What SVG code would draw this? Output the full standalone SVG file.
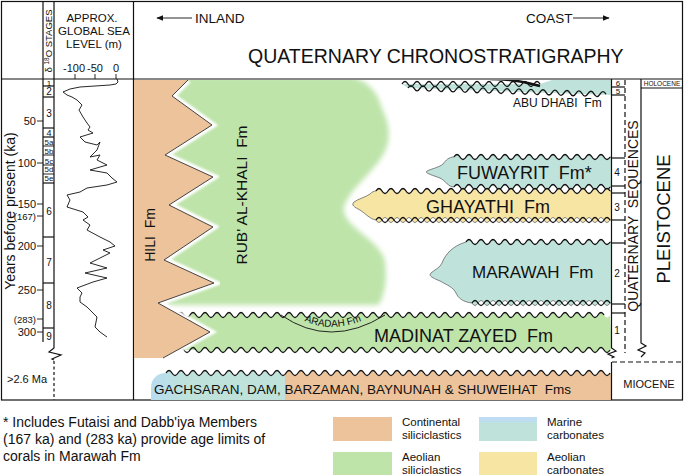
<svg xmlns="http://www.w3.org/2000/svg" width="685" height="475" viewBox="0 0 685 475">
<style>
text{font-family:"Liberation Sans",Arial,sans-serif;fill:#111}
.pre{white-space:pre}
.ln{stroke:#111;stroke-width:1.2;fill:none}
.thin{stroke:#111;stroke-width:0.9;fill:none}
.wv{stroke:#111;stroke-width:1.3;fill:none}
.edge{stroke:#555;stroke-width:0.7}
.cont{fill:#EDC39C}
.aeos{fill:#BEE4AA}
.mar{fill:#BFE3DA}
.aeoc{fill:#F7E5A4}
</style>
<defs>
<marker id="ah" viewBox="0 0 10 8" refX="9" refY="4" markerWidth="7" markerHeight="6" orient="auto-start-reverse" markerUnits="userSpaceOnUse"><path d="M0,0 L10,4 L0,8 Z" fill="#111"/></marker>
<filter id="blur" x="-10%" y="-10%" width="120%" height="120%"><feGaussianBlur stdDeviation="2.5"/></filter>
<filter id="blur2"><feGaussianBlur stdDeviation="1.2"/></filter>
<clipPath id="main"><rect x="134" y="80" width="477" height="320"/></clipPath>
<linearGradient id="gach" gradientUnits="userSpaceOnUse" x1="151" y1="0" x2="611" y2="0">
<stop offset="0" stop-color="#B8DCF0"/><stop offset="0.08" stop-color="#BFE3DA"/><stop offset="0.291" stop-color="#BFE3DA"/><stop offset="0.291" stop-color="#EDC39C"/><stop offset="1" stop-color="#EDC39C"/>
</linearGradient>
<linearGradient id="marleg" x1="0" y1="0" x2="0" y2="1">
<stop offset="0" stop-color="#BEDDF2"/><stop offset="0.18" stop-color="#BEDDF2"/><stop offset="0.25" stop-color="#BFE3DA"/><stop offset="1" stop-color="#BFE3DA"/>
</linearGradient>
</defs>

<g id="frame">
<rect x="1.5" y="1.5" width="681" height="398.5" class="ln"/>
<line x1="1" y1="79" x2="683" y2="79" class="ln"/>
<line x1="43" y1="1" x2="43" y2="342" class="ln"/>
<path d="M54,1 L54,348 L49,352 L61,355 L52,359 L54,360" class="ln"/>
<line x1="54" y1="361" x2="54" y2="400" class="ln" stroke-dasharray="3,2.5"/>
<line x1="133.5" y1="1" x2="133.5" y2="400" class="ln"/>
</g>

<g id="axis">
<text transform="translate(15,211) rotate(-90)" text-anchor="middle" font-size="14">Years before present (ka)</text>
<g class="thin">
<line x1="37" y1="121" x2="43" y2="121"/><line x1="37" y1="163" x2="43" y2="163"/><line x1="37" y1="204" x2="43" y2="204"/><line x1="37" y1="216" x2="43" y2="216"/><line x1="37" y1="246" x2="43" y2="246"/><line x1="37" y1="290" x2="43" y2="290"/><line x1="37" y1="319" x2="43" y2="319"/><line x1="37" y1="332" x2="43" y2="332"/>
</g>
<g font-size="11" text-anchor="end">
<text x="36" y="125">50</text><text x="36" y="167">100</text><text x="36" y="208">150</text><text x="36" y="220" font-size="9.5">(167)</text><text x="36" y="250">200</text><text x="36" y="294">250</text><text x="36" y="323" font-size="9.5">(283)</text><text x="36" y="336">300</text>
</g>
<text x="7" y="383" font-size="11">&gt;2.6 Ma</text>
</g>

<g id="stages">
<text transform="translate(52,41) rotate(-90)" text-anchor="middle" font-size="9.5">δ <tspan font-size="6.5" dy="-3">18</tspan><tspan dy="3">O STAGES</tspan></text>
<g class="ln">
<line x1="43" y1="86" x2="54" y2="86"/><line x1="43" y1="97" x2="54" y2="97"/><line x1="43" y1="128" x2="54" y2="128"/><line x1="43" y1="137" x2="54" y2="137"/><line x1="43" y1="183" x2="54" y2="183"/><line x1="43" y1="237" x2="54" y2="237"/><line x1="43" y1="283" x2="54" y2="283"/><line x1="43" y1="328" x2="54" y2="328"/>
</g>
<g class="thin" stroke-width="0.6">
<line x1="43" y1="146" x2="54" y2="146"/><line x1="43" y1="155" x2="54" y2="155"/><line x1="43" y1="165" x2="54" y2="165"/><line x1="43" y1="174" x2="54" y2="174"/>
</g>
<g text-anchor="middle" font-size="10">
<text x="49" y="85.5" font-size="8">1</text><text x="49" y="95">2</text><text x="49" y="117">3</text><text x="49" y="136" font-size="9">4</text>
<text x="49" y="145" font-size="8">5a</text><text x="49" y="154" font-size="8">5b</text><text x="49" y="164" font-size="8">5c</text><text x="49" y="172" font-size="8">5d</text><text x="49" y="181" font-size="8">5e</text>
<text x="49" y="215">6</text><text x="49" y="266">7</text><text x="49" y="309">8</text><text x="49" y="340">9</text>
</g>
</g>

<g id="sealevel">
<g font-size="11.5" text-anchor="middle">
<text x="92" y="22">APPROX.</text><text x="94" y="35">GLOBAL SEA</text><text x="94" y="48">LEVEL (m)</text>
</g>
<g font-size="11" text-anchor="middle">
<text x="74" y="72">-100</text><text x="95" y="72">-50</text><text x="116" y="72">0</text>
</g>
<g class="thin"><line x1="75" y1="74" x2="75" y2="79"/><line x1="95" y1="74" x2="95" y2="79"/><line x1="116" y1="74" x2="116" y2="79"/></g>
<polyline class="thin" points="117,79 118,82 116,84 110,85 95,86 80,87 70,89 63,92 67,95 72,97 77,100 82,105 79,110 83,117 87,123 90,127 88,130 93,133 80,137 85,142 97,145 100,142 97,150 90,157 100,155 97,160 107,165 100,167 90,170 107,173 112,178 117,182 107,185 87,188 80,192 67,195 70,200 67,207 83,212 88,217 83,220 90,225 87,230 100,237 110,242 115,246 103,250 110,253 90,263 107,268 85,273 107,278 93,282 77,288 82,293 80,297 80,302 87,307 97,317 95,327 100,332 107,337"/>
</g>

<g id="header">
<line x1="192" y1="18" x2="157" y2="18" class="thin" stroke-width="1.1" marker-end="url(#ah)"/>
<text x="195" y="23" font-size="13.5">INLAND</text>
<text x="526" y="23" font-size="13.5">COAST</text>
<line x1="573" y1="18" x2="609" y2="18" class="thin" stroke-width="1.1" marker-end="url(#ah)"/>
<text x="248" y="63" font-size="19.5">QUATERNARY CHRONOSTRATIGRAPHY</text>
</g>

<g id="formations" clip-path="url(#main)">
<g id="rubalkhali">
<path class="aeos" filter="url(#blur)" d="M150,76 L345,76 C366,78 378,92 381,106 C385,116 391,126 388,142 C384,166 350,186 344,207 C340,226 382,240 385,262 C388,282 383,300 378,305 L150,305 Z"/>
</g>
<g id="madinat">
<path class="aeos" d="M150,315 L178,315 q3,-5 6,0 t6,0 t6,0 t6,0 t6,0 t6,0 t6,0 t6,0 t6,0 t6,0 t6,0 t6,0 t6,0 t6,0 t6,0 t6,0 t6,0 t6,0 t6,0 t6,0 t6,0 t6,0 t6,0 t6,0 t6,0 t6,0 t6,0 t6,0 t6,0 t6,0 t6,0 t6,0 t6,0 t6,0 t6,0 t6,0 t6,0 t6,0 t6,0 t6,0 t6,0 t6,0 t6,0 t6,0 t6,0 t6,0 t6,0 t6,0 t6,0 t6,0 t6,0 t6,0 t6,0 t6,0 t6,0 t6,0 t6,0 t6,0 t6,0 t6,0 t6,0 t6,0 t6,0 t6,0 t6,0 t6,0 t6,0 t6,0 t6,0 t6,0 t6,0 t6,0 L612,350 L610,350 q-3,5 -6,0 t-6,0 t-6,0 t-6,0 t-6,0 t-6,0 t-6,0 t-6,0 t-6,0 t-6,0 t-6,0 t-6,0 t-6,0 t-6,0 t-6,0 t-6,0 t-6,0 t-6,0 t-6,0 t-6,0 t-6,0 t-6,0 t-6,0 t-6,0 t-6,0 t-6,0 t-6,0 t-6,0 t-6,0 t-6,0 t-6,0 t-6,0 t-6,0 t-6,0 t-6,0 t-6,0 t-6,0 t-6,0 t-6,0 t-6,0 t-6,0 t-6,0 t-6,0 t-6,0 t-6,0 t-6,0 t-6,0 t-6,0 t-6,0 t-6,0 t-6,0 t-6,0 t-6,0 t-6,0 t-6,0 t-6,0 t-6,0 t-6,0 t-6,0 t-6,0 t-6,0 t-6,0 t-6,0 t-6,0 t-6,0 t-6,0 t-6,0 t-6,0 t-6,0 L150,350 Z"/>
<path class="wv" d="M178,315 q3,-5 6,0 t6,0 t6,0 t6,0 t6,0 t6,0 t6,0 t6,0 t6,0 t6,0 t6,0 t6,0 t6,0 t6,0 t6,0 t6,0 t6,0 t6,0 t6,0 t6,0 t6,0 t6,0 t6,0 t6,0 t6,0 t6,0 t6,0 t6,0 t6,0 t6,0 t6,0 t6,0 t6,0 t6,0 t6,0 t6,0 t6,0 t6,0 t6,0 t6,0 t6,0 t6,0 t6,0 t6,0 t6,0 t6,0 t6,0 t6,0 t6,0 t6,0 t6,0 t6,0 t6,0 t6,0 t6,0 t6,0 t6,0 t6,0 t6,0 t6,0 t6,0 t6,0 t6,0 t6,0 t6,0 t6,0 t6,0 t6,0 t6,0 t6,0 t6,0 M178,350 q3,-5 6,0 t6,0 t6,0 t6,0 t6,0 t6,0 t6,0 t6,0 t6,0 t6,0 t6,0 t6,0 t6,0 t6,0 t6,0 t6,0 t6,0 t6,0 t6,0 t6,0 t6,0 t6,0 t6,0 t6,0 t6,0 t6,0 t6,0 t6,0 t6,0 t6,0 t6,0 t6,0 t6,0 t6,0 t6,0 t6,0 t6,0 t6,0 t6,0 t6,0 t6,0 t6,0 t6,0 t6,0 t6,0 t6,0 t6,0 t6,0 t6,0 t6,0 t6,0 t6,0 t6,0 t6,0 t6,0 t6,0 t6,0 t6,0 t6,0 t6,0 t6,0 t6,0 t6,0 t6,0 t6,0 t6,0 t6,0 t6,0 t6,0 t6,0 t6,0 t6,0"/>
<path class="thin" d="M281,315 Q330,349 385,315"/>
<path id="arad" d="M290,313 Q331,341 376,313" fill="none"/>
<text font-size="10"><textPath href="#arad" startOffset="50%" text-anchor="middle">ARADAH Fm</textPath></text>
<text x="374" y="342" font-size="18" class="pre">MADINAT ZAYED  Fm</text>
</g>
<g id="hili">
<path d="M188,80 L172,96 L212,125 L165,155 L213,177 L169,205 L213,227 L164,260 L214,283 L158,303 L210,332 L163,358" fill="none" stroke="#fff" stroke-width="7" filter="url(#blur2)"/>
<path class="cont" d="M133,80 L188,80 L172,96 L212,125 L165,155 L213,177 L169,205 L213,227 L164,260 L214,283 L158,303 L210,332 L163,358 L133,358 Z"/>
<path d="M188,80 L172,96 L212,125 L165,155 L213,177 L169,205 L213,227 L164,260 L214,283 L158,303 L210,332 L163,358" fill="none" stroke="#333" stroke-width="0.9"/>
<text transform="translate(155,235) rotate(-90)" text-anchor="middle" font-size="14" class="pre">HILI  Fm</text>
</g>
<text transform="translate(247,195) rotate(-90)" text-anchor="middle" font-size="15.5" class="pre">RUB' AL-KHALI  Fm</text>
<g id="abudhabi">
<path class="mar" d="M402,84 L540,84 L552,80 L612,80 L612,95 L408,88 Z"/>
<path class="wv" d="M402,84 q3,-5 6,0 t6,0 t6,0 t6,0 t6,0 t6,0 t6,0 t6,0 t6,0 t6,0 t6,0 t6,0 t6,0 t6,0 t6,0 t6,0 t6,0 t6,0 t6,0 t6,0 t6,0 t6,0 t6,0 M408,88 q3,-5 6,0.19 t6,0.19 t6,0.19 t6,0.19 t6,0.19 t6,0.19 t6,0.19 t6,0.19 t6,0.19 t6,0.19 t6,0.19 t6,0.19 t6,0.19 t6,0.19 t6,0.19 t6,0.19 t6,0.19 t6,0.19 t6,0.19 t6,0.19 t6,0.19 t6,0.19 t6,0.19 t6,0.19 t6,0.19 t6,0.19 t6,0.19 t6,0.19 t6,0.19 t6,0.19 t6,0.19 t6,0.19 t6,0.19"/>
<path d="M490,79 Q516,79 540,86" fill="none" stroke="#111" stroke-width="2.4"/>
<text x="513" y="107" font-size="12" class="pre">ABU DHABI  Fm</text>
</g>
<g id="fuwayrit">
<path class="mar edge" d="M454,157 q3,-5 6,0 t6,0 t6,0 t6,0 t6,0 t6,0 t6,0 t6,0 t6,0 t6,0 t6,0 t6,0 t6,0 t6,0 t6,0 t6,0 t6,0 t6,0 t6,0 t6,0 t6,0 t6,0 t6,0 t6,0 t6,0 t6,0 L612,157 L612,187 L610,187 q-3,5 -6,0 t-6,0 t-6,0 t-6,0 t-6,0 t-6,0 t-6,0 t-6,0 t-6,0 t-6,0 t-6,0 t-6,0 t-6,0 t-6,0 t-6,0 t-6,0 t-6,0 t-6,0 t-6,0 t-6,0 t-6,0 t-6,0 t-6,0 t-6,0 t-6,0 t-6,0 C448,187 446,181 440,178 C432,175 424,173 427,171 C431,169 440,167 443,164 C446,160 449,157 454,157 Z"/>
<path class="wv" d="M454,157 q3,-5 6,0 t6,0 t6,0 t6,0 t6,0 t6,0 t6,0 t6,0 t6,0 t6,0 t6,0 t6,0 t6,0 t6,0 t6,0 t6,0 t6,0 t6,0 t6,0 t6,0 t6,0 t6,0 t6,0 t6,0 t6,0 t6,0 M454,187 q3,-5 6,0 t6,0 t6,0 t6,0 t6,0 t6,0 t6,0 t6,0 t6,0 t6,0 t6,0 t6,0 t6,0 t6,0 t6,0 t6,0 t6,0 t6,0 t6,0 t6,0 t6,0 t6,0 t6,0 t6,0 t6,0 t6,0"/>
<text x="457" y="179" font-size="18" class="pre">FUWAYRIT  Fm*</text>
</g>
<g id="ghayathi">
<path class="aeoc edge" d="M376,191 q3,-5 6,0 t6,0 t6,0 t6,0 t6,0 t6,0 t6,0 t6,0 t6,0 t6,0 t6,0 t6,0 t6,0 t6,0 t6,0 t6,0 t6,0 t6,0 t6,0 t6,0 t6,0 t6,0 t6,0 t6,0 t6,0 t6,0 t6,0 t6,0 t6,0 t6,0 t6,0 t6,0 t6,0 t6,0 t6,0 t6,0 t6,0 t6,0 t6,0 L612,191 L612,220 L610,220 q-3,5 -6,0 t-6,0 t-6,0 t-6,0 t-6,0 t-6,0 t-6,0 t-6,0 t-6,0 t-6,0 t-6,0 t-6,0 t-6,0 t-6,0 t-6,0 t-6,0 t-6,0 t-6,0 t-6,0 t-6,0 t-6,0 t-6,0 t-6,0 t-6,0 t-6,0 t-6,0 t-6,0 t-6,0 t-6,0 t-6,0 t-6,0 t-6,0 t-6,0 t-6,0 t-6,0 t-6,0 t-6,0 t-6,0 t-6,0 C370,219 366,214 360,210 C354,207 351,205 354,202 C358,199 366,197 370,194 C372,192 374,191 376,191 Z"/>
<path class="wv" d="M376,191 q3,-5 6,0 t6,0 t6,0 t6,0 t6,0 t6,0 t6,0 t6,0 t6,0 t6,0 t6,0 t6,0 t6,0 t6,0 t6,0 t6,0 t6,0 t6,0 t6,0 t6,0 t6,0 t6,0 t6,0 t6,0 t6,0 t6,0 t6,0 t6,0 t6,0 t6,0 t6,0 t6,0 t6,0 t6,0 t6,0 t6,0 t6,0 t6,0 t6,0 M376,220 q3,-5 6,0 t6,0 t6,0 t6,0 t6,0 t6,0 t6,0 t6,0 t6,0 t6,0 t6,0 t6,0 t6,0 t6,0 t6,0 t6,0 t6,0 t6,0 t6,0 t6,0 t6,0 t6,0 t6,0 t6,0 t6,0 t6,0 t6,0 t6,0 t6,0 t6,0 t6,0 t6,0 t6,0 t6,0 t6,0 t6,0 t6,0 t6,0 t6,0"/>
<text x="426" y="213" font-size="18" class="pre">GHAYATHI  Fm</text>
</g>
<g id="marawah">
<path class="mar edge" d="M466,242 q3,-5 6,0 t6,0 t6,0 t6,0 t6,0 t6,0 t6,0 t6,0 t6,0 t6,0 t6,0 t6,0 t6,0 t6,0 t6,0 t6,0 t6,0 t6,0 t6,0 t6,0 t6,0 t6,0 t6,0 t6,0 L612,242 L612,303 L610,303 q-3,5 -6,0 t-6,0 t-6,0 t-6,0 t-6,0 t-6,0 t-6,0 t-6,0 t-6,0 t-6,0 t-6,0 t-6,0 t-6,0 t-6,0 t-6,0 t-6,0 t-6,0 t-6,0 t-6,0 t-6,0 t-6,0 t-6,0 t-6,0 C463,302 458,298 456,293 C453,287 447,285 440,281 C433,278 428,276 431,273 C434,270 440,268 442,263 C445,255 452,246 466,242 Z"/>
<path class="wv" d="M466,242 q3,-5 6,0 t6,0 t6,0 t6,0 t6,0 t6,0 t6,0 t6,0 t6,0 t6,0 t6,0 t6,0 t6,0 t6,0 t6,0 t6,0 t6,0 t6,0 t6,0 t6,0 t6,0 t6,0 t6,0 t6,0 M472,303 q3,-5 6,0 t6,0 t6,0 t6,0 t6,0 t6,0 t6,0 t6,0 t6,0 t6,0 t6,0 t6,0 t6,0 t6,0 t6,0 t6,0 t6,0 t6,0 t6,0 t6,0 t6,0 t6,0 t6,0"/>
<text x="472" y="278" font-size="17" class="pre">MARAWAH  Fm</text>
</g>
<g id="gachsaran">
<path fill="url(#gach)" d="M166,373 q3,-5 6,0 t6,0 t6,0 t6,0 t6,0 t6,0 t6,0 t6,0 t6,0 t6,0 t6,0 t6,0 t6,0 t6,0 t6,0 t6,0 t6,0 t6,0 t6,0 t6,0 t6,0 t6,0 t6,0 t6,0 t6,0 t6,0 t6,0 t6,0 t6,0 t6,0 t6,0 t6,0 t6,0 t6,0 t6,0 t6,0 t6,0 t6,0 t6,0 t6,0 t6,0 t6,0 t6,0 t6,0 t6,0 t6,0 t6,0 t6,0 t6,0 t6,0 t6,0 t6,0 t6,0 t6,0 t6,0 t6,0 t6,0 t6,0 t6,0 t6,0 t6,0 t6,0 t6,0 t6,0 t6,0 t6,0 t6,0 t6,0 t6,0 t6,0 t6,0 t6,0 t6,0 t6,0 L612,373 L612,400 L151,400 L151,388 C151,379 157,373 166,373 Z"/>
<path class="wv" d="M166,373 q3,-5 6,0 t6,0 t6,0 t6,0 t6,0 t6,0 t6,0 t6,0 t6,0 t6,0 t6,0 t6,0 t6,0 t6,0 t6,0 t6,0 t6,0 t6,0 t6,0 t6,0 t6,0 t6,0 t6,0 t6,0 t6,0 t6,0 t6,0 t6,0 t6,0 t6,0 t6,0 t6,0 t6,0 t6,0 t6,0 t6,0 t6,0 t6,0 t6,0 t6,0 t6,0 t6,0 t6,0 t6,0 t6,0 t6,0 t6,0 t6,0 t6,0 t6,0 t6,0 t6,0 t6,0 t6,0 t6,0 t6,0 t6,0 t6,0 t6,0 t6,0 t6,0 t6,0 t6,0 t6,0 t6,0 t6,0 t6,0 t6,0 t6,0 t6,0 t6,0 t6,0 t6,0 t6,0"/>
<text x="154" y="394" font-size="13.5" class="pre">GACHSARAN, DAM, BARZAMAN, BAYNUNAH &amp; SHUWEIHAT  Fms</text>
</g>
</g>

<g id="sequences">
<path d="M611.5,79 L611.5,348 L616,351 L608,354 L614,357 L611.5,358" class="ln"/>
<line x1="611.5" y1="362" x2="611.5" y2="400" class="ln"/>
<line x1="625" y1="80" x2="625" y2="353" class="ln" stroke-dasharray="5,3"/>
<g class="ln">
<line x1="611" y1="87" x2="625" y2="87"/><line x1="611" y1="95" x2="625" y2="95"/>
<line x1="611" y1="158" x2="625" y2="158"/><line x1="611" y1="186" x2="625" y2="186"/><line x1="611" y1="193" x2="625" y2="193"/><line x1="611" y1="220" x2="625" y2="220"/><line x1="611" y1="243" x2="625" y2="243"/><line x1="611" y1="304" x2="625" y2="304"/><line x1="611" y1="313" x2="625" y2="313"/>
</g>
<g font-size="10" text-anchor="middle">
<text x="618" y="86" font-size="8">6</text><text x="618" y="94" font-size="8">5</text>
<text x="617" y="176">4</text><text x="617" y="211">3</text><text x="617" y="277">2</text><text x="617" y="334">1</text>
</g>
<text transform="translate(638,216) rotate(-90)" text-anchor="middle" font-size="14" class="pre">QUATERNARY  SEQUENCES</text>
</g>
<g id="epochs">
<path d="M641,79 L641,343 L646,346 L638,350 L645,353 L641,357" class="ln"/>
<line x1="641" y1="88" x2="683" y2="88" class="ln"/>
<text x="662" y="86" font-size="6.5" text-anchor="middle">HOLOCENE</text>
<text transform="translate(670,219) rotate(-90)" text-anchor="middle" font-size="18.5">PLEISTOCENE</text>
<line x1="612" y1="362" x2="683" y2="362" stroke="#111" stroke-width="1.2" stroke-dasharray="5,3"/>
<text x="649" y="388" font-size="11" text-anchor="middle">MIOCENE</text>
</g>

<g id="footnote" font-size="14">
<text x="3" y="427">* Includes Futaisi and Dabb'iya Members</text>
<text x="3" y="444">(167 ka) and (283 ka) provide age limits of</text>
<text x="3" y="461">corals in Marawah Fm</text>
</g>

<g id="legend" font-size="11.5">
<rect x="333" y="417" width="59" height="24" class="cont"/>
<text x="402" y="426">Continental</text><text x="402" y="439">siliciclastics</text>
<rect x="479" y="417" width="58" height="24" fill="url(#marleg)"/>
<text x="547" y="426">Marine</text><text x="547" y="439">carbonates</text>
<rect x="333" y="452" width="59" height="24" class="aeos"/>
<text x="402" y="461">Aeolian</text><text x="402" y="474">siliciclastics</text>
<rect x="479" y="452" width="58" height="24" class="aeoc"/>
<text x="547" y="461">Aeolian</text><text x="547" y="474">carbonates</text>
</g>
</svg>
